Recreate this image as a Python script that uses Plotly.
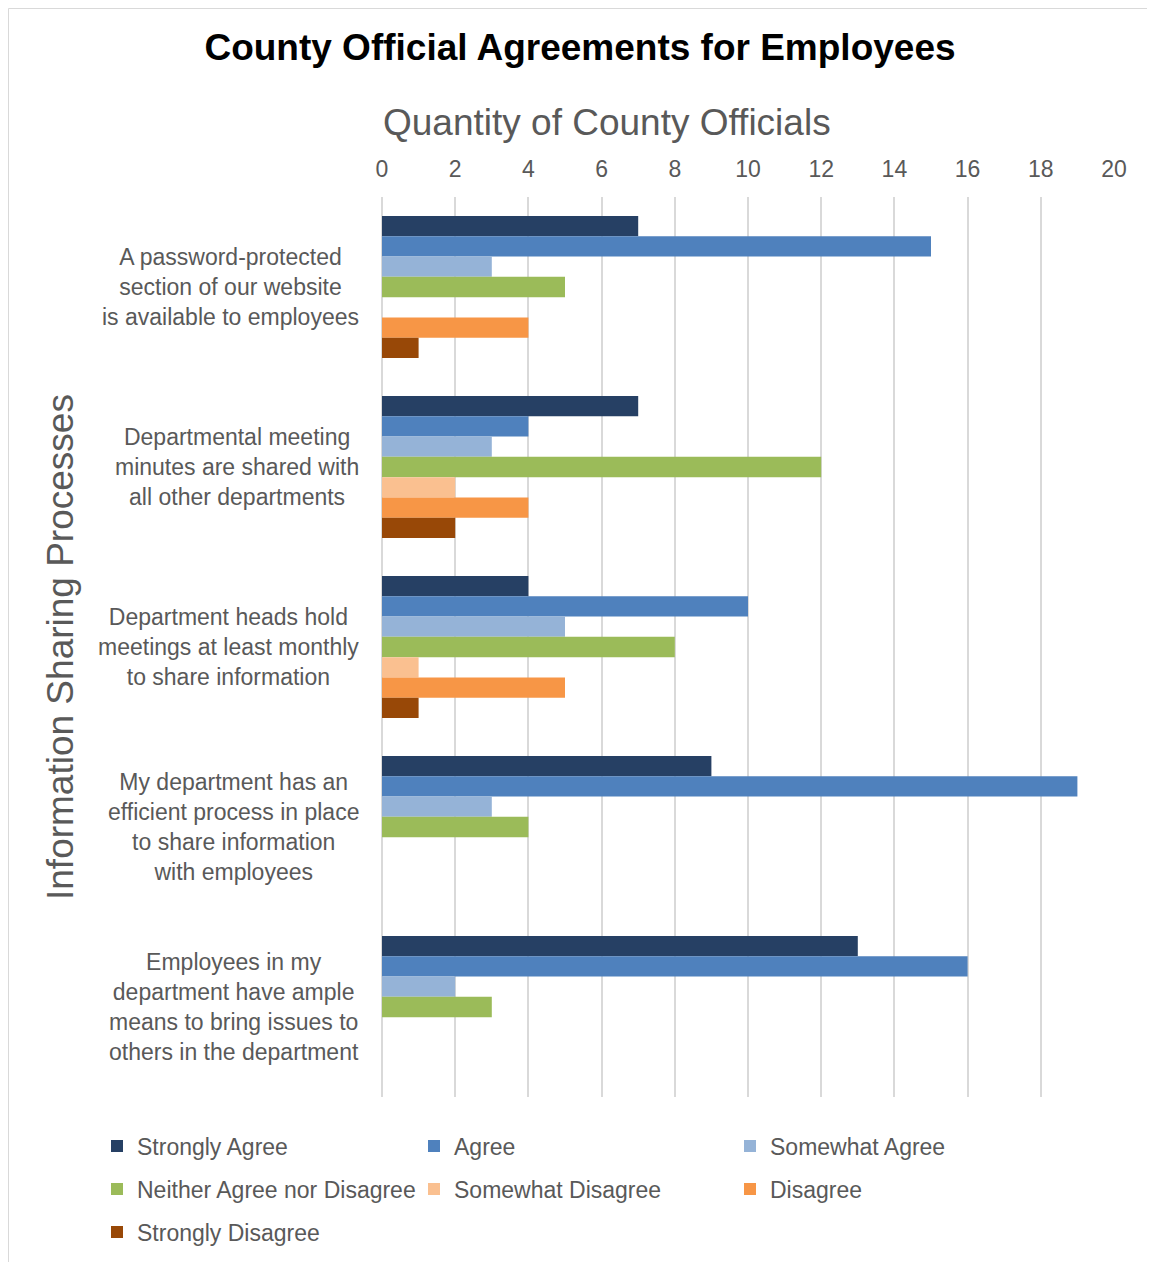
import plotly.graph_objects as go

categories = [
    "A password-protected<br>section of our website<br>is available to employees",
    "Departmental meeting<br>minutes are shared with<br>all other departments",
    "Department heads hold<br>meetings at least monthly<br>to share information",
    "My department has an<br>efficient process in place<br>to share information<br>with employees",
    "Employees in my<br>department have ample<br>means to bring issues to<br>others in the department",
]
series_names = ["Strongly Agree", "Agree", "Somewhat Agree", "Neither Agree nor Disagree",
                "Somewhat Disagree", "Disagree", "Strongly Disagree"]
strongly_agree = [7, 7, 4, 9, 13]
agree = [15, 4, 10, 19, 16]
somewhat_agree = [3, 3, 5, 3, 2]
neither = [5, 12, 8, 4, 3]
somewhat_disagree = [0, 2, 1, 0, 0]
disagree = [4, 4, 5, 0, 0]
strongly_disagree = [1, 2, 1, 0, 0]
series_values = [strongly_agree, agree, somewhat_agree, neither,
                 somewhat_disagree, disagree, strongly_disagree]
colors = ["#264064", "#4F81BD", "#95B3D7", "#9BBB59", "#FAC090", "#F79646", "#984807"]

FONT = "Arial, Liberation Sans, sans-serif"
GRAY = "#595959"

# the page body has an 8px margin; work in reference pixel coords and offset
OFF = 8
W, H = 1155 - OFF, 1262 - OFF
L = 382 - OFF            # plot left (ref x=382)
T = 197 - OFF            # plot top (ref y=197)
PR = 1114 - OFF          # plot right (ref x=1114)
PB = 1097 - OFF          # plot bottom (ref y=1097)
R = W - PR
B = H - PB
pw = PR - L
ph = PB - T


def px_x(x):
    return (x - OFF - L) / pw


def px_y(y):
    return (PB - (y - OFF)) / ph


# legend grid: 3 columns, filled row-wise (reference pixel positions of the swatches)
leg_cols = [111, 428, 744]
leg_rows = [1146, 1189, 1232]
legend_ids = ["legend" if i == 0 else f"legend{i + 1}" for i in range(len(series_names))]

fig = go.Figure()
for name, vals, col, lg in zip(series_names, series_values, colors, legend_ids):
    fig.add_trace(go.Bar(
        y=categories, x=vals, name=name, orientation="h",
        marker=dict(color=col, line=dict(width=0)),
        legend=lg,
    ))

fig.update_layout(
    width=W, height=H,
    margin=dict(l=L, r=R, t=T, b=B),
    paper_bgcolor="white", plot_bgcolor="white",
    barmode="group", bargap=0.21, bargroupgap=0,
    font=dict(family=FONT, color=GRAY),
    title=dict(text="<b>County Official Agreements for Employees</b>",
               x=(580 - OFF) / W, xref="container", xanchor="center",
               y=1 - (47 - OFF) / H, yref="container", yanchor="middle",
               font=dict(size=37, color="black", family=FONT)),
    xaxis=dict(side="top", range=[0, 20], dtick=2, tick0=0,
               showgrid=True, gridcolor="#D9D9D9", gridwidth=1.5,
               zeroline=True, zerolinecolor="#D9D9D9", zerolinewidth=1.5,
               showline=False, ticks="outside", ticklen=10, tickcolor="rgba(0,0,0,0)",
               tickfont=dict(size=23, color=GRAY, family=FONT)),
    yaxis=dict(autorange="reversed", showticklabels=False, showgrid=False,
               zeroline=False, showline=False),
    showlegend=True,
)

legends = {}
for i, lg in enumerate(legend_ids):
    cx = leg_cols[i % 3]
    ry = leg_rows[i // 3]
    legends[lg] = dict(orientation="h", xref="container", yref="container",
                       x=(cx - 14 - OFF) / W, xanchor="left",
                       y=1 - (ry - OFF) / H, yanchor="middle",
                       font=dict(size=23, color=GRAY, family=FONT),
                       bgcolor="rgba(0,0,0,0)", borderwidth=0)
fig.update_layout(**legends)

# category labels (centered multi-line)
for cat in categories:
    fig.add_annotation(text=cat, xref="paper", yref="y", x=px_x(361), y=cat,
                       xanchor="right", yanchor="middle", align="center", showarrow=False,
                       font=dict(size=23, color=GRAY, family=FONT))

# axis titles
fig.add_annotation(text="Quantity of County Officials", xref="paper", yref="paper",
                   x=px_x(607), y=px_y(122), xanchor="center", yanchor="middle",
                   showarrow=False, font=dict(size=37, color=GRAY, family=FONT))
fig.add_annotation(text="Information Sharing Processes", xref="paper", yref="paper",
                   x=px_x(60), y=px_y(647), xanchor="center", yanchor="middle",
                   textangle=-90, showarrow=False, font=dict(size=37, color=GRAY, family=FONT))

# chart border (top and left edges visible, as in the reference)
fig.add_shape(type="rect", xref="paper", yref="paper",
              x0=px_x(OFF + 0.5), x1=px_x(1170), y0=px_y(1280), y1=px_y(OFF + 0.5),
              line=dict(color="#D9D9D9", width=1), fillcolor="rgba(0,0,0,0)", layer="below")

fig.write_html("out.html")
